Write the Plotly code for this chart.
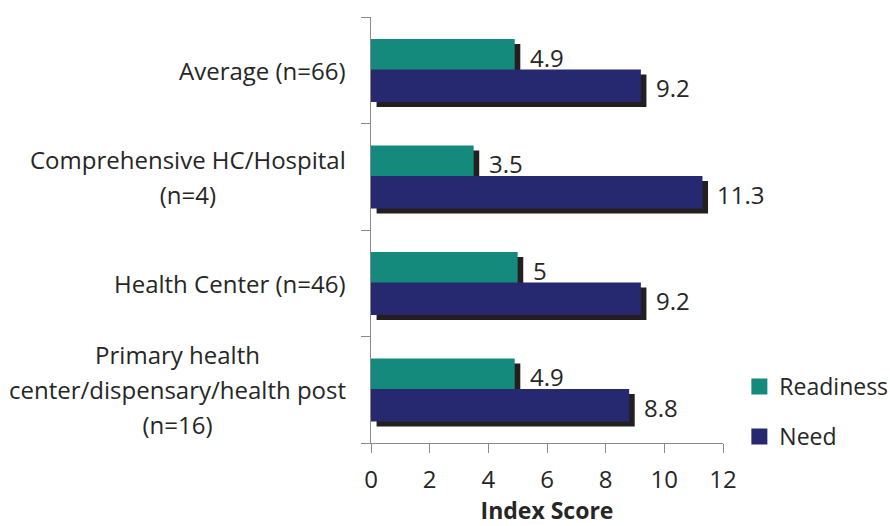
import plotly.graph_objects as go

categories = ["Average (n=66)",
              "Comprehensive HC/Hospital<br>(n=4)",
              "Health Center (n=46)",
              "Primary health<br>center/dispensary/health post<br>(n=16)"]
readiness = [4.9, 3.5, 5, 4.9]
need = [9.2, 11.3, 9.2, 8.8]
series_names = ["Readiness", "Need"]
x_ticks = [0, 2, 4, 6, 8, 10, 12]

TEAL = "#138a7b"
NAVY = "#262870"
SHADOW = "#231f20"
TEXT = "#262626"
AXIS = "#8a8a8a"
FONT = "Open Sans"
FS = 24

pos = list(range(len(categories)))
sx = 0.19   # shadow shift in x (units)
sy = 0.047  # shadow shift in y (units)
w = 0.305
off = {"Readiness": -0.14, "Need": 0.145}

fig = go.Figure()
for name, vals, col in [("Readiness", readiness, TEAL), ("Need", need, NAVY)]:
    ys = [p + off[name] for p in pos]
    fig.add_trace(go.Bar(orientation="h", y=[y + sy for y in ys], x=vals, base=sx,
                         width=w, marker=dict(color=SHADOW, line=dict(width=0)),
                         showlegend=False, hoverinfo="skip"))
    fig.add_trace(go.Bar(orientation="h", y=ys, x=vals, width=w, name=name,
                         marker=dict(color=col, line=dict(width=0)),
                         showlegend=False))
    for v, y in zip(vals, ys):
        fig.add_annotation(x=v, y=y, text=f"{v:g}", showarrow=False, xanchor="left",
                           xshift=13, yshift=-2, font=dict(family=FONT, size=FS, color=TEXT))

# legend entries
for name, col in [("Readiness", TEAL), ("Need", NAVY)]:
    fig.add_trace(go.Scatter(x=[None], y=[None], mode="markers", name=name,
                             legendgroup=name,
                             marker=dict(symbol="square", size=16, color=col)))

# category labels: centered lines, block right-aligned, looser line spacing
for p, cat in zip(pos, categories):
    lines = cat.split("<br>")
    txt = "<br>".join(f"<span style='font-size:{FS}px'>{ln}</span>" for ln in lines)
    fig.add_annotation(xref="paper", x=0, y=p, text=txt, showarrow=False,
                       xanchor="right", align="center", xshift=-23,
                       font=dict(family=FONT, size=27, color=TEXT))

fig.update_layout(
    width=890, height=526,
    margin=dict(l=371, r=167, t=17, b=83, autoexpand=False),
    barmode="overlay",
    plot_bgcolor="white", paper_bgcolor="white",
    font=dict(family=FONT, size=FS, color=TEXT),
    showlegend=True,
    legend=dict(x=1.0465, y=0.183, xanchor="left", yanchor="top",
                tracegroupgap=17, font=dict(family=FONT, size=23, color=TEXT),
                bgcolor="rgba(0,0,0,0)"),
    xaxis=dict(range=[0, 12], tickvals=x_ticks, ticks="outside", ticklen=9,
               tickcolor=AXIS, showline=True, linecolor=AXIS, linewidth=1,
               showgrid=False, zeroline=False, ticklabelstandoff=6,
               tickfont=dict(family=FONT, size=FS, color=TEXT),
               title=dict(text="<b>Index Score</b>", standoff=17,
                          font=dict(family=FONT, size=23, color=TEXT))),
    yaxis=dict(range=[len(pos) - 0.5, -0.5], tickvals=[p - 0.5 for p in pos] + [len(pos) - 0.5],
               showticklabels=False, ticks="outside", ticklen=9, tickcolor=AXIS,
               showline=True, linecolor=AXIS, linewidth=1, showgrid=False, zeroline=False),
)
fig.write_html("out.html", config={"displayModeBar": False},
               post_script="document.body.style.margin='0';document.body.style.overflow='hidden';")
